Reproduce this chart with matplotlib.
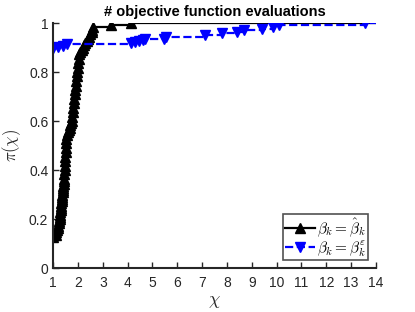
import matplotlib
matplotlib.use("Agg")
import matplotlib.pyplot as plt

plt.rcParams['font.family'] = ['Liberation Sans', 'DejaVu Sans']
plt.rcParams['mathtext.fontset'] = 'cm'

title = "# objective function evaluations"
xlabel = r"$\chi$"
ylabel = r"$\pi(\chi)$"
label_hat = r"$\beta_k = \hat{\beta}_k$"
label_eps = r"$\beta_k = \beta_k^{\varepsilon}$"

xticks = [1, 2, 3, 4, 5, 6, 7, 8, 9, 10, 11, 12, 13, 14]
yticks = [0, 0.2, 0.4, 0.6, 0.8, 1]
ytick_labels = ["0", "0.2", "0.4", "0.6", "0.8", "1"]

hat_x = [1.00, 1.10, 1.13, 1.16, 1.19, 1.21, 1.23, 1.25, 1.26, 1.27, 1.28, 1.29,
         1.30, 1.31, 1.32, 1.33, 1.34, 1.35, 1.36, 1.37, 1.38, 1.39, 1.40, 1.41,
         1.42, 1.43, 1.44, 1.45, 1.46, 1.47, 1.48, 1.49, 1.50, 1.51, 1.52, 1.53,
         1.55, 1.58, 1.62, 1.66, 1.69, 1.72, 1.75, 1.77, 1.79, 1.81, 1.83, 1.85,
         1.87, 1.89, 1.91, 1.93, 1.95, 1.97, 1.99, 2.01, 2.03, 2.06, 2.10, 2.15,
         2.20, 2.25, 2.30, 2.35, 2.40, 2.45, 2.50, 2.55, 2.58, 2.61, 3.33, 4.14]
hat_y = [0.127, 0.136, 0.145, 0.155, 0.164, 0.173, 0.182, 0.191, 0.200, 0.209, 0.218, 0.227,
         0.236, 0.245, 0.255, 0.264, 0.273, 0.282, 0.291, 0.300, 0.309, 0.318, 0.327, 0.336,
         0.345, 0.355, 0.364, 0.382, 0.400, 0.418, 0.436, 0.455, 0.473, 0.491, 0.509, 0.527,
         0.545, 0.555, 0.564, 0.573, 0.582, 0.591, 0.600, 0.618, 0.636, 0.655, 0.673, 0.691,
         0.709, 0.727, 0.745, 0.764, 0.782, 0.800, 0.818, 0.836, 0.855, 0.873, 0.882, 0.891,
         0.900, 0.909, 0.918, 0.927, 0.936, 0.945, 0.955, 0.964, 0.973, 0.982, 0.991, 1.000]

eps_x = [1.00, 1.20, 1.40, 1.55, 4.15, 4.30, 4.45, 4.60, 4.70, 5.45, 5.55,
         7.10, 7.80, 8.40, 8.70, 9.40, 9.85, 10.10, 13.55]
eps_y = [0.900, 0.904, 0.908, 0.913, 0.917, 0.921, 0.925, 0.929, 0.933, 0.937, 0.945,
         0.950, 0.958, 0.965, 0.971, 0.976, 0.986, 0.994, 1.000]
x_end = 14

fig = plt.figure(figsize=(4.15, 3.12), dpi=100)
ax = fig.add_axes([0.128, 0.141, 0.778, 0.785])

ax.plot(hat_x + [x_end], hat_y + [hat_y[-1]], color='black', lw=1.6,
        drawstyle='steps-post', label=label_hat, marker='^', ms=7,
        markevery=list(range(len(hat_x))))
ax.plot(eps_x + [x_end], eps_y + [eps_y[-1]], color='blue', lw=1.6, ls='--',
        drawstyle='steps-post', label=label_eps, marker='v', ms=7,
        markevery=list(range(len(eps_x))))

ax.set_xlim(1, 14)
ax.set_ylim(0, 1)
ax.set_xticks(xticks)
ax.set_yticks(yticks)
ax.set_yticklabels(ytick_labels)
for s in ['top', 'right']:
    ax.spines[s].set_visible(False)
for s in ['left', 'bottom']:
    ax.spines[s].set_linewidth(1.5)
    ax.spines[s].set_color('#262626')
ax.tick_params(direction='in', length=4, width=1, labelsize=10, colors='#262626')
ax.tick_params(axis='x', pad=6)

ax.set_xlabel(xlabel, fontsize=13, color='#262626', labelpad=2)
ax.set_ylabel(ylabel, fontsize=12, color='#262626')
ax.set_title(title, fontsize=10.5, fontweight='bold', pad=5)

leg = ax.legend(loc='lower right', fontsize=11, frameon=True, fancybox=False,
                edgecolor='#262626', handlelength=2.0, handletextpad=0.15,
                borderpad=0.1, labelspacing=0.05, borderaxespad=0.5)
leg.get_frame().set_linewidth(1.2)

fig.savefig('out.png', dpi=100)
